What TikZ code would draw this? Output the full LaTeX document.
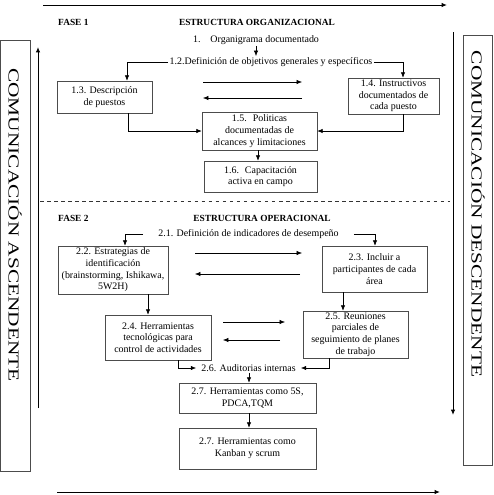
\documentclass[tikz,border=0pt]{standalone}
\usepackage{fontspec}
\setmainfont{Liberation Serif}
\usetikzlibrary{arrows.meta}

\begin{document}
\begin{tikzpicture}[x=0.03cm,y=-0.03cm,>=Latex,
  box/.style={draw=black!70,line width=0.5pt,align=center,inner sep=1pt,font=\fontsize{8.5}{10}\selectfont},
  lbl/.style={align=center,inner sep=1pt,font=\fontsize{8.5}{10}\selectfont},
  head/.style={inner sep=0pt,font=\fontsize{8}{10}\selectfont\bfseries},
  side/.style={rotate=-90,inner sep=0pt,font=\fontsize{13}{15}\selectfont},
  arr/.style={-{Latex[length=1.6mm,width=1.3mm]},line width=0.5pt}]
\useasboundingbox (0,0) rectangle (493,495);
% side panels
\draw[black!70,line width=0.6pt] (0.5,40) rectangle (30,471);
\draw[black!70,line width=0.6pt] (463,35) rectangle (492.5,465);
\node[side] (up) at (15,225) {\scalebox{1.4}[1]{COMUNICACIÓN ASCENDENTE}};
\node[side] (down) at (478,214) {\scalebox{1.4}[1]{COMUNICACIÓN DESCENDENTE}};
\coordinate (upa) at (38,408);
\coordinate (upb) at (38,47);
\coordinate (dna) at (453,32);
\coordinate (dnb) at (453,415);
\draw[arr,line width=0.8pt] (upa)--(upb);
\draw[arr,line width=0.8pt] (dna)--(dnb);
\coordinate (topa) at (43,5);
\coordinate (topb) at (447,5);
\coordinate (bota) at (57,492);
\coordinate (botb) at (440,492);
\draw[arr,line width=0.8pt] (topa)--(topb);
\draw[arr,line width=0.8pt] (bota)--(botb);

% fase 1
\node[head,anchor=west] (f1) at (58,22) {FASE 1};
\node[head] (e1) at (257,22) {ESTRUCTURA ORGANIZACIONAL};
\node[lbl] (s11) at (256,40) {1.\hspace{1em}Organigrama documentado};
\node[lbl] (s12) at (271,62) {1.2.Definición de objetivos generales y específicos};
\node[box,minimum width=2.85cm,minimum height=0.96cm] (s13) at (104.5,97) {1.3. Descripción\\de puestos};
\node[box,minimum width=2.73cm,minimum height=1.08cm] (s14) at (393.5,96) {1.4. Instructivos\\documentados de\\cada puesto};
\node[box,minimum width=3.45cm,minimum height=1.14cm] (s15) at (259.5,131) {1.5.\hspace{0.6em}Politicas\\documentadas de\\alcances y limitaciones};
\node[box,minimum width=3.39cm,minimum height=0.93cm] (s16) at (260.5,176.5) {1.6.\hspace{0.6em}Capacitación\\activa en campo};
\draw[arr] (s11.south)--(s12.north -| s11.south);
\draw[arr] (s12.west) -| (s13.north -| 127,0);
\draw[arr] (s12.east) -| (s14.north -| 403,0);
\coordinate (r1a) at (203,82);
\coordinate (r1b) at (302,82);
\coordinate (l1a) at (302,98);
\coordinate (l1b) at (203,98);
\draw[arr] (r1a)--(r1b);
\draw[arr] (l1a)--(l1b);
\draw[arr] (s13.south -| 128,0) |- (s15.west);
\draw[arr] (s14.south -| 403,0) |- (s15.east);
\draw[arr] (s15.south -| 258,0)--(s16.north -| 258,0);

\draw[dashed,black!80,line width=0.6pt] (40,201)--(450,201);

% fase 2
\node[head,anchor=west] (f2) at (58,218) {FASE 2};
\node[head] (e2) at (262,218) {ESTRUCTURA OPERACIONAL};
\node[lbl,inner xsep=0.45cm] (s21) at (248.5,234) {2.1. Definición de indicadores de desempeño};
\node[box,minimum width=3.3cm,minimum height=1.44cm] (s22) at (113,270) {2.2. Estrategias de\\identificación\\(brainstorming, Ishikawa,\\5W2H)};
\node[box,minimum width=3.15cm,minimum height=1.38cm] (s23) at (374.5,269) {2.3. Incluir a\\participantes de cada\\área};
\node[box,minimum width=3.18cm,minimum height=1.35cm] (s24) at (158,337.5) {2.4. Herramientas\\tecnológicas para\\control de actividades};
\node[box,minimum width=3.15cm,minimum height=1.41cm] (s25) at (355.5,334.5) {2.5. Reuniones\\parciales de\\seguimiento de planes\\de trabajo};
\node[lbl,inner xsep=0.15cm] (s26) at (248.5,368) {2.6. Auditorias internas};
\node[box,minimum width=4.11cm,minimum height=0.9cm] (s27) at (247.5,398) {2.7. Herramientas como 5S,\\PDCA,TQM};
\node[box,minimum width=4.11cm,minimum height=1.23cm] (s28) at (247.5,448.5) {2.7. Herramientas como\\Kanban y scrum};
\draw[arr] (s21.west) -| (s22.north -| 125,0);
\draw[arr] (s21.east) -| (s23.north -| 375,0);
\coordinate (r2a) at (195,253);
\coordinate (r2b) at (302,253);
\coordinate (l2a) at (300,274);
\coordinate (l2b) at (195,274);
\draw[arr] (r2a)--(r2b);
\draw[arr] (l2a)--(l2b);
\draw[arr] (s22.south -| 148,0)--(s24.north -| 148,0);
\draw[arr] (s23.south -| 343,0)--(s25.north -| 343,0);
\coordinate (r3a) at (223,322);
\coordinate (r3b) at (285,322);
\coordinate (l3a) at (280,340);
\coordinate (l3b) at (223,340);
\draw[arr] (r3a)--(r3b);
\draw[arr] (l3a)--(l3b);
\draw[arr] (s24.south -| 178,0) |- (s26.west);
\draw[arr] (s25.south -| 329,0) |- (s26.east);
\draw[arr] (s26.south -| 249,0)--(s27.north -| 249,0);
\draw[arr] (s27.south -| 249,0)--(s28.north -| 249,0);
\end{tikzpicture}
\end{document}
